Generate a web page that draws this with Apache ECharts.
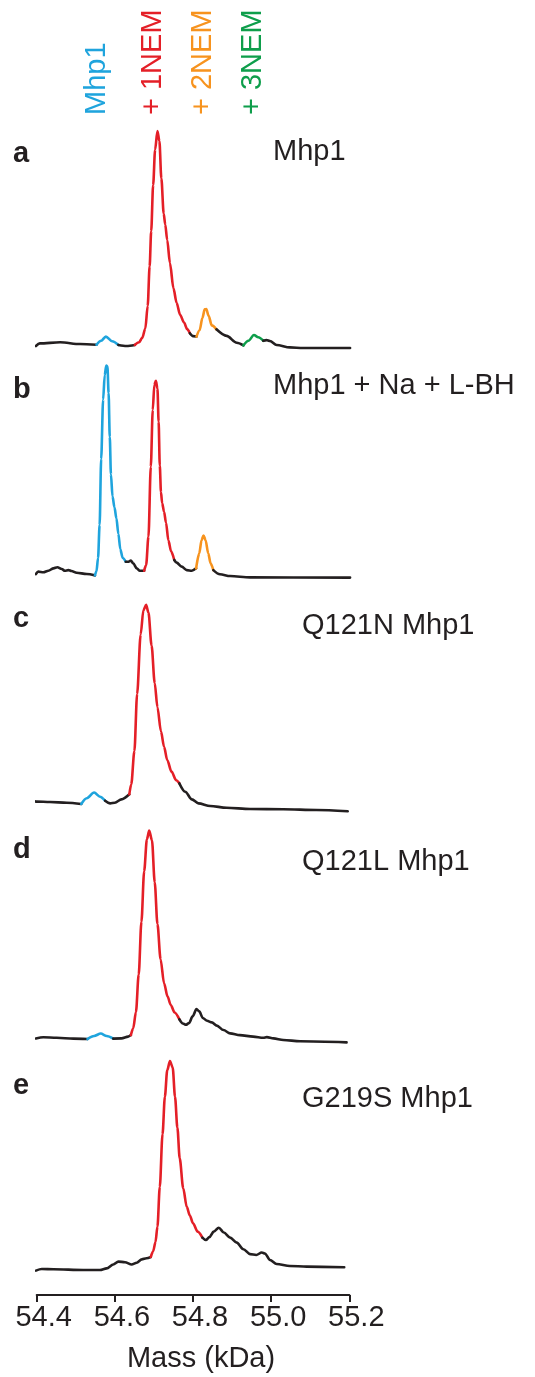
<!DOCTYPE html>
<html>
<head>
<meta charset="utf-8">
<script src="https://cdn.jsdelivr.net/npm/echarts@6/dist/echarts.min.js"></script>
<style>
  html, body { margin: 0; background: #fff; }
  #chart { width: 535px; height: 1377px; }
</style>
</head>
<body>
<div id="chart"></div>
<script>
  // x axis ticks (kDa)
  const xTicks = [54.4, 54.6, 54.8, 55.0, 55.2];
  const xName = 'Mass (kDa)';

  const panelLetters = ['a', 'b', 'c', 'd', 'e'];
  const panelTitles = ['Mhp1', 'Mhp1 + Na + L-BH', 'Q121N Mhp1', 'Q121L Mhp1', 'G219S Mhp1'];
  const speciesLabels = ['Mhp1', '+ 1NEM', '+ 2NEM', '+ 3NEM'];

  // each panel: segments of the trace, [species, [[mass, relative intensity], ...]]
  // species '' = unassigned part of the trace
  const panelA = [
    ['', [[54.398,1.8],[54.408,3.0],[54.460,3.5],[54.511,2.7],[54.553,2.4]]],
    ['Mhp1', [[54.553,2.4],[54.565,4.2],[54.577,6.1],[54.593,4.0],[54.609,2.3]]],
    ['', [[54.609,2.3],[54.630,1.8],[54.651,2.3]]],
    ['+ 1NEM', [[54.651,2.3],[54.662,3.5],[54.670,5.5],[54.678,9.8],[54.684,20],[54.689,38],[54.693,54],[54.698,75],[54.703,91],[54.709,99.5],[54.714,95],[54.719,78],[54.725,62],[54.729,57],[54.734,50],[54.741,39.5],[54.750,28],[54.758,21.5],[54.767,16],[54.777,12.5],[54.785,9.5],[54.792,7.6]]],
    ['', [[54.792,7.6],[54.800,6.3],[54.809,6.1]]],
    ['+ 2NEM', [[54.809,6.1],[54.817,9],[54.824,14.5],[54.830,18.5],[54.834,18.6],[54.840,15.5],[54.848,11.2],[54.860,9.4]]],
    ['', [[54.860,9.4],[54.886,6.4],[54.912,3.3],[54.929,2.1]]],
    ['+ 3NEM', [[54.929,2.1],[54.942,4.2],[54.956,6.8],[54.967,5.8],[54.980,4.2]]],
    ['', [[54.980,4.2],[54.988,4.5],[54.997,4.1],[55.014,2.3],[55.048,1.2],[55.082,0.9],[55.202,0.9]]]
  ];
  const panelB = [
    ['', [[54.398,2.7],[54.404,3.8],[54.417,3.5],[54.430,4.2],[54.443,5.3],[54.453,5.8],[54.464,5.0],[54.472,4.2],[54.481,4.5],[54.489,4.1],[54.502,3.3],[54.528,2.7],[54.549,2.1]]],
    ['Mhp1', [[54.549,2.1],[54.553,4],[54.557,10],[54.561,25],[54.565,55],[54.570,82],[54.574,93],[54.578,97.5],[54.581,97],[54.584,85],[54.587,65],[54.590,48],[54.594,38],[54.599,33],[54.604,28],[54.609,21],[54.614,14],[54.620,10],[54.628,8.3]]],
    ['', [[54.628,8.3],[54.635,8.3],[54.641,8.8],[54.647,7.6],[54.656,5.3],[54.664,4.2],[54.675,4.2]]],
    ['+ 1NEM', [[54.675,4.2],[54.680,6.8],[54.686,19.7],[54.692,51.5],[54.697,77.3],[54.701,88.6],[54.705,90.6],[54.709,87],[54.712,72],[54.715,52],[54.718,40],[54.721,35],[54.726,31],[54.731,26],[54.737,18],[54.744,13],[54.752,9.1]]],
    ['', [[54.752,9.1],[54.758,7.9],[54.771,6.1],[54.784,4.5],[54.797,4.2],[54.808,5.3]]],
    ['+ 2NEM', [[54.808,5.3],[54.816,12.1],[54.822,18.2],[54.827,20.2],[54.832,18.2],[54.839,12.1],[54.845,7.6],[54.852,4.5]]],
    ['', [[54.852,4.5],[54.869,2.6],[54.895,1.8],[54.946,1.2],[55.202,1.1]]]
  ];
  const panelC = [
    ['', [[54.368,4.5],[54.379,5.6],[54.387,6.4],[54.400,6.1],[54.434,5.9],[54.477,5.6],[54.514,5.0]]],
    ['Mhp1', [[54.514,5.0],[54.528,7.6],[54.547,10.2],[54.562,8.3],[54.575,6.5]]],
    ['', [[54.575,6.5],[54.588,5.3],[54.600,5.6],[54.617,7.1],[54.637,9.4]]],
    ['+ 1NEM', [[54.637,9.4],[54.642,14],[54.650,29],[54.657,55],[54.666,82],[54.673,93],[54.680,95.5],[54.686,92],[54.694,77],[54.702,60],[54.709,49],[54.718,38],[54.726,31],[54.734,25],[54.745,19.7],[54.757,15.8],[54.765,14.4]]],
    ['', [[54.765,14.4],[54.780,10.6],[54.797,7.1],[54.814,5.3],[54.844,4.1],[54.886,3.3],[54.946,2.7],[55.031,2.6],[55.116,2.3],[55.196,1.7]]]
  ];
  const panelD = [
    ['', [[54.398,3.0],[54.417,3.5],[54.451,3.3],[54.494,2.9],[54.530,2.7]]],
    ['Mhp1', [[54.530,2.7],[54.547,4.1],[54.564,5.2],[54.579,4.1],[54.596,2.9]]],
    ['', [[54.596,2.9],[54.617,3.0],[54.634,3.8],[54.641,4.5]]],
    ['+ 1NEM', [[54.641,4.5],[54.647,7.6],[54.654,15],[54.661,32],[54.668,56],[54.675,79],[54.682,93.5],[54.688,97.5],[54.695,93],[54.702,74],[54.709,55],[54.717,39],[54.726,28],[54.735,22],[54.743,18.2],[54.753,14.8],[54.765,11.7]]],
    ['', [[54.765,11.7],[54.774,9.8],[54.782,9.2],[54.790,10],[54.799,13],[54.809,16.3],[54.816,15.3],[54.825,12.3],[54.836,11],[54.848,10.3],[54.861,8.8],[54.878,6.8],[54.895,5.3],[54.920,4.5],[54.954,3.8],[54.980,3.3],[54.989,3.6],[55.006,3.0],[55.031,2.3],[55.074,1.7],[55.193,1.2]]]
  ];
  const panelE = [
    ['', [[54.398,2.0],[54.413,2.7],[54.443,2.6],[54.519,2.3],[54.562,2.3],[54.579,3.0],[54.596,4.8],[54.609,6.1],[54.626,5.8],[54.643,4.8],[54.656,5.6],[54.669,7.1],[54.681,7.6],[54.692,8.2]]],
    ['+ 1NEM', [[54.692,8.2],[54.698,10.8],[54.704,15],[54.709,22],[54.715,40],[54.722,64],[54.728,81],[54.734,93],[54.741,97.3],[54.748,94.3],[54.754,81],[54.760,67],[54.766,53],[54.775,39.4],[54.784,31],[54.792,27],[54.800,23.5],[54.812,19.7],[54.824,17]]],
    ['', [[54.824,17],[54.833,15.9],[54.842,17.2],[54.853,19.7],[54.866,21.5],[54.879,19.3],[54.895,17],[54.912,14.7],[54.929,11.7],[54.946,9.5],[54.962,9.1],[54.976,10.2],[54.984,9.8],[54.997,6.8],[55.014,5.0],[55.048,4.1],[55.091,3.8],[55.187,3.5]]]
  ];
  const panels = [panelA, panelB, panelC, panelD, panelE];

  // styling / layout
  const ink = '#231f20';
  const font = '"Liberation Sans", Arial, sans-serif';
  const fs = 29;
  const speciesColor = {
    '': ink,
    'Mhp1': '#1fa4dd',
    '+ 1NEM': '#e41f27',
    '+ 2NEM': '#f7931e',
    '+ 3NEM': '#0e9e4b'
  };
  const plotLeft = 36.7, plotRight = 349.3;
  const gridTops = [130, 360, 595, 825, 1055];
  const gridH = 220;
  const letterY = [154, 390, 619, 850, 1086];
  const titleY = [152, 386, 626, 862, 1099];
  const titleX = [273, 273, 302, 302, 302];
  const speciesX = [96.7, 153.3, 203.3, 253.3];

  const chart = echarts.init(document.getElementById('chart'), null, {renderer: 'canvas'});

  const grid = gridTops.map(t => ({left: plotLeft, right: 535 - plotRight, top: t, height: gridH}));
  const last = panels.length - 1;
  const xAxis = panels.map((p, i) => ({
    gridIndex: i,
    type: 'value',
    min: xTicks[0],
    max: xTicks[xTicks.length - 1],
    interval: 0.2,
    show: i === last,
    offset: 20,
    axisLine: {onZero: false, lineStyle: {color: ink, width: 2}},
    axisTick: {length: 7, lineStyle: {color: ink, width: 2}},
    axisLabel: {
      color: ink, fontSize: fs, fontFamily: font, margin: 8,
      padding: [0, 0, 0, 14],
      formatter: v => v.toFixed(1)
    },
    splitLine: {show: false},
    name: i === last ? xName : '',
    nameLocation: 'middle',
    nameGap: 49,
    nameTextStyle: {color: ink, fontSize: fs, fontFamily: font, padding: [0, 0, 0, 16]}
  }));
  const yAxis = panels.map((p, i) => ({gridIndex: i, type: 'value', min: 0, max: 100, show: false}));

  const series = [];
  panels.forEach((segs, i) => {
    segs.forEach(([sp, pts]) => {
      series.push({
        type: 'line',
        name: sp || 'trace',
        xAxisIndex: i,
        yAxisIndex: i,
        data: pts,
        showSymbol: false,
        smooth: 0.3,
        smoothMonotone: 'x',
        clip: false,
        silent: true,
        lineStyle: {color: speciesColor[sp], width: 2.6, cap: 'round', join: 'round'}
      });
    });
  });

  const graphic = [];
  panelLetters.forEach((l, i) => {
    graphic.push({
      type: 'text', x: 13, y: letterY[i],
      style: {text: l, fontSize: fs, fontWeight: 'bold', fontFamily: font, fill: ink,
        align: 'left', verticalAlign: 'middle', textAlign: 'left', textVerticalAlign: 'middle'}
    });
    graphic.push({
      type: 'text', x: titleX[i], y: titleY[i],
      style: {text: panelTitles[i], fontSize: fs, fontFamily: font, fill: ink,
        align: 'left', verticalAlign: 'middle', textAlign: 'left', textVerticalAlign: 'middle'}
    });
  });
  speciesLabels.forEach((s, i) => {
    graphic.push({
      type: 'text', x: speciesX[i], y: 115, rotation: Math.PI / 2,
      style: {text: s, fontSize: fs, fontFamily: font, fill: speciesColor[s],
        align: 'left', verticalAlign: 'middle', textAlign: 'left', textVerticalAlign: 'middle'}
    });
  });

  chart.setOption({
    backgroundColor: '#fff',
    animation: false,
    grid: grid,
    xAxis: xAxis,
    yAxis: yAxis,
    series: series,
    graphic: graphic
  });
</script>
</body>
</html>
